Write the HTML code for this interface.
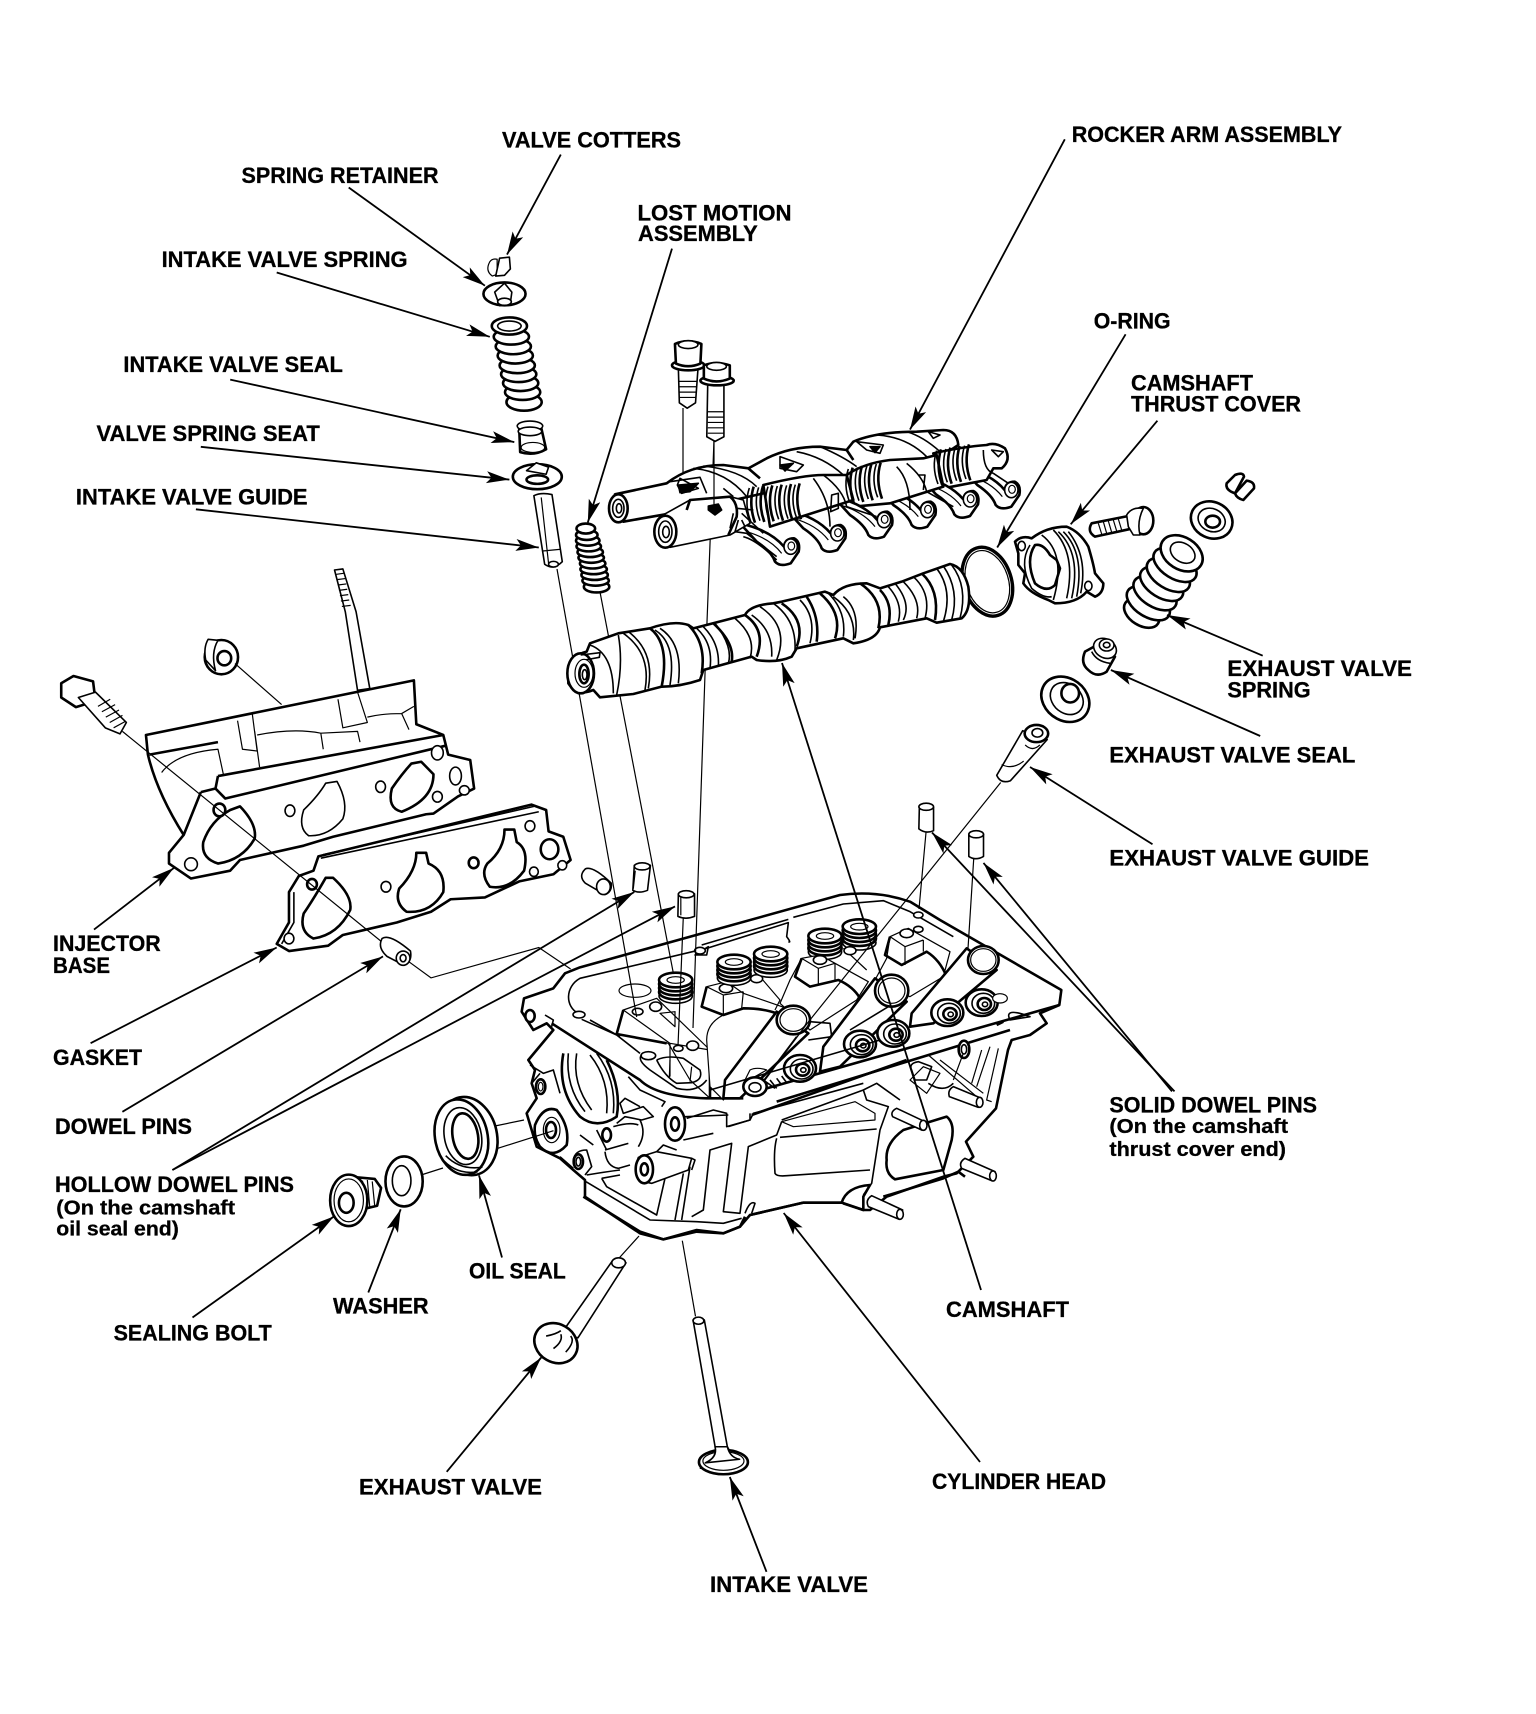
<!DOCTYPE html>
<html><head><meta charset="utf-8"><title>Cylinder head exploded view</title>
<style>
html,body{margin:0;padding:0;background:#fff}
svg{display:block}
svg *{vector-effect:non-scaling-stroke}
.p path,.p ellipse,.p polygon{fill:#fff;stroke:#000;stroke-width:1.6;stroke-linejoin:round}
.p .n{fill:none}
.p .t{stroke-width:2.6}
.p .f{stroke-width:1.2}
.p .b{fill:#000}
.l{fill:none;stroke:#000;stroke-width:1.2}
.a{fill:none;stroke:#000;stroke-width:1.8;marker-end:url(#ah)}
text{font-family:"Liberation Sans",sans-serif;font-weight:700;font-size:22px;fill:#000;stroke:#000;stroke-width:.3}
text.s{font-size:20px}
</style></head><body>
<svg xmlns="http://www.w3.org/2000/svg" width="1536" height="1714" viewBox="0 0 1536 1714">
<defs>
<marker id="ah" markerUnits="userSpaceOnUse" markerWidth="24" markerHeight="14" refX="23" refY="7" orient="auto"><path d="M0,1 L23,7 L0,13 L5,7Z" fill="#000"/></marker>
<g id="claw" class="p"><path d="M-150,-70 Q-60,-50 -18,0 Q-15,-25 12,-25 Q32,-15 26,15 L2,50 Q-30,62 -45,45 Q-55,15 -100,-15 Z" class="t"/><ellipse rx="20" ry="23" cx="2" cy="0"/><ellipse rx="10" ry="12" cx="4" cy="-2" class="f"/><path class="n f" d="M-130,-45 Q-60,-25 -25,20"/></g>
<g id="roller" class="p"><ellipse rx="48" ry="40" class="t"/><ellipse rx="34" ry="30" cx="5" cy="2"/><ellipse rx="20" ry="18" cx="8" cy="4" class="t"/><ellipse rx="8" ry="7" cx="10" cy="5"/></g>
<g id="stack" class="p"><ellipse cy="48" rx="50" ry="22"/><ellipse cy="36" rx="50" ry="22" class="t"/><ellipse cy="24" rx="50" ry="22" class="t"/><ellipse cy="12" rx="50" ry="22" class="t"/><ellipse cy="0" rx="50" ry="22" class="t"/><ellipse cy="0" rx="26" ry="10" class="f"/></g>
<g id="coil" class="p"><path class="n" d="M0,-48 Q-16,0 4,52"/><path class="n t" d="M13,-52 Q-3,0 17,56"/></g>
</defs>

<!-- INJECTOR BASE + stud, nut, bolt + GASKET -->
<g class="p" transform="translate(0,560) scale(.4898,.3571)">
<path d="M683,28 L700,25 L727,145 L755,360 L730,365 L705,145Z"/>
<path class="n f" d="M687,40 L703,37 M688,55 L705,52 M690,70 L707,67 M692,85 L709,82 M694,100 L711,97 M696,115 L713,112 M698,130 L716,127"/>
<ellipse cx="452" cy="272" rx="34" ry="48" class="t"/><path d="M425,222 Q415,245 420,280 L440,310 Q430,260 445,225Z"/><ellipse cx="458" cy="275" rx="14" ry="20" class="t"/>
<path d="M125,345 L150,325 L190,340 L195,395 L155,412 L125,385Z" class="t"/>
<path d="M160,385 L195,370 L258,455 L245,487 L215,470 Z"/>
<path class="n f" d="M200,410 L225,390 M208,425 L235,405 M216,440 L243,420 M224,455 L250,435 M232,470 L256,452"/>
<path class="t" d="M298,490 L845,337 L850,460 L905,490 L915,545 L960,560 L968,640 L935,662 L885,710 L870,712 L680,775 L620,800 L490,840 L470,870 L390,892 L345,850 L345,820 L375,770 Q320,650 302,545 Z"/>
<path class="n t" d="M445,605 L905,490 M410,650 L375,770 M410,650 L440,640 L460,668 L910,520 M440,640 L445,605 M305,545 L445,510"/>
<path class="n f" d="M520,480 L530,580 M485,450 L495,530 L525,535 L515,430 M690,390 L700,470 L750,455 L730,370 M330,595 Q360,540 445,530 L456,600 M525,490 Q600,470 655,485 L660,530 M655,485 L730,480 L735,510 M750,440 Q780,430 820,430 L835,475 M820,430 L845,410"/>
<path class="t" d="M470,700 L490,690 Q525,740 520,780 Q495,840 445,850 Q410,835 415,790 Q430,730 470,700Z"/>
<path class="n" d="M665,625 L688,620 Q712,680 700,725 Q670,775 630,772 Q608,750 620,700 Q650,660 665,625Z"/>
<path class="t" d="M840,570 L860,565 L885,600 Q885,670 820,705 Q790,695 800,640 Q820,600 840,570Z"/>
<ellipse cx="448" cy="700" rx="12" ry="18" class="t"/><ellipse cx="390" cy="852" rx="13" ry="18"/><ellipse cx="592" cy="702" rx="10" ry="16"/><ellipse cx="777" cy="635" rx="10" ry="16"/><ellipse cx="893" cy="540" rx="12" ry="20"/><ellipse cx="893" cy="663" rx="10" ry="15"/><ellipse cx="930" cy="605" rx="12" ry="25"/><ellipse cx="948" cy="645" rx="10" ry="13"/>
<path class="t" d="M650,830 L1085,685 L1115,700 L1120,760 L1150,775 L1165,840 L1130,880 L1060,900 L990,945 L920,950 L880,985 L810,1015 L700,1050 L670,1080 L590,1095 L565,1075 L590,1015 L590,930 L610,885 L640,870Z"/>
<path class="n" d="M660,825 L1090,690 M600,930 L600,1015 L575,1075 M655,835 L1100,705"/>
<path class="t" d="M665,890 L680,890 Q720,940 715,980 Q690,1050 640,1060 Q610,1040 620,990 Q640,950 665,890Z"/>
<path class="t" d="M850,820 L870,820 L875,850 Q910,870 905,930 Q880,990 830,985 Q805,960 815,920 Q850,870 850,820Z"/>
<path class="t" d="M1030,755 L1050,755 L1055,790 Q1080,810 1070,870 Q1040,925 1000,915 Q980,880 995,850 Q1030,810 1030,755Z"/>
<ellipse cx="637" cy="908" rx="10" ry="15" class="t"/><ellipse cx="590" cy="1060" rx="10" ry="15"/><ellipse cx="788" cy="915" rx="10" ry="15"/><ellipse cx="967" cy="848" rx="10" ry="15" class="t"/><ellipse cx="1082" cy="745" rx="10" ry="15"/><ellipse cx="1090" cy="873" rx="9" ry="13"/><ellipse cx="1148" cy="855" rx="9" ry="13"/><ellipse cx="1122" cy="810" rx="18" ry="28" class="t"/>
</g>

<!-- CYLINDER HEAD outline & upper details -->
<g class="p" transform="translate(510,880) scale(.33333)">
<path class="t" d="M42,355 L130,325 L165,280 L210,262 L990,45 Q1100,30 1200,65 L1290,120 L1654,330 L1648,375 L1590,400 L1610,430 L1560,465 L1505,480 L1494,510 L1458,685 L1368,785 L1390,830 L1340,880 L1300,890 L1130,950 L1080,990 L1060,990 L995,968 L880,968 L720,1005 L690,1040 L640,1060 L560,1055 L460,1078 L390,1060 L225,950 L225,900 L190,870 L150,835 L80,800 L50,700 L80,655 L65,610 L75,570 L55,540 L130,450 L110,430 L70,450 L35,395Z"/>
<path class="n" d="M205,400 C165,380 165,320 210,295 L590,205 L835,128 L830,170 Q845,190 835,185 M850,112 L1000,72 L1120,62 L1200,95 L1330,170 M575,195 L835,118 M570,215 L595,200 L590,225 L555,225 Z"/>
<ellipse cx="570" cy="212" rx="16" ry="10"/><ellipse cx="1225" cy="105" rx="14" ry="9"/><ellipse cx="1225" cy="148" rx="14" ry="9"/>
<path class="n t" d="M125,430 L390,600 Q440,650 590,655 L700,655"/>
<ellipse cx="207" cy="404" rx="18" ry="10"/>
<path class="n" d="M215,418 L320,465 L390,520 M105,405 L130,420 L125,440 M240,420 L330,470"/>
<ellipse cx="60" cy="408" rx="14" ry="18" class="t"/>
<ellipse cx="375" cy="332" rx="48" ry="20" class="f"/>
<path d="M340,390 L440,355 L600,510 L600,655 L540,600 L475,490 L320,462Z" class="f"/>
<path class="n t" d="M340,390 L320,462 L470,490 M600,510 L600,655"/>
<path class="n f" d="M340,390 L480,490 L600,510 M450,400 L495,395 L495,440 Z M480,490 L480,590"/>
<ellipse cx="383" cy="395" rx="16" ry="10"/><ellipse cx="437" cy="380" rx="18" ry="14"/><ellipse cx="505" cy="505" rx="14" ry="9"/><ellipse cx="548" cy="497" rx="18" ry="14"/>
<ellipse cx="415" cy="527" rx="22" ry="12"/>
<path class="n" d="M395,525 Q380,540 420,570 L500,625 Q560,640 590,600 M440,540 Q470,525 520,535 L570,570 Q580,600 545,608 L500,610 Q465,590 440,540"/>
<path class="n f" d="M480,540 L478,592 M545,560 L540,605"/>
<path d="M590,320 L650,305 L700,340 L830,385 L780,450 L640,660 L600,620 L590,480 Q590,430 640,405 L575,380Z" class="f"/>
<path class="n t" d="M590,320 L575,380 L640,405 L700,385 Q760,385 800,400"/>
<path class="n f" d="M590,320 L640,345 L700,335 M640,345 L640,405 M700,335 L695,385 M750,290 L810,360 L795,390"/>
<ellipse cx="648" cy="325" rx="20" ry="13"/><ellipse cx="740" cy="296" rx="18" ry="12"/>
<use href="#stack" x="497" y="300"/>
<use href="#stack" x="672" y="250" transform="translate(0,-4)"/>
<use href="#stack" x="782" y="222"/>
<use href="#stack" x="945" y="168"/>
<use href="#stack" x="1048" y="140"/>
<path d="M875,235 L930,225 L975,250 L1075,305 L1040,360 L900,450 L810,370 L840,300Z" class="f"/>
<path class="n t" d="M875,235 L855,290 L900,320 L985,300 Q1030,320 1050,355"/>
<path class="n f" d="M875,235 L925,265 L975,250 M925,265 L925,315 M975,250 L975,300 M1000,205 L1070,270"/>
<ellipse cx="930" cy="240" rx="20" ry="13"/><ellipse cx="1020" cy="212" rx="18" ry="12"/>
<path d="M1140,170 L1195,145 L1320,215 L1300,290 L1200,350 L1095,300 L1130,235Z" class="f"/>
<path class="n t" d="M1140,170 L1125,225 L1175,255 L1250,215 Q1290,240 1310,290"/>
<path class="n f" d="M1140,170 L1185,200 L1240,180 M1185,200 L1185,255 M1240,180 L1240,215"/>
<ellipse cx="1190" cy="160" rx="20" ry="13"/>
<path class="t" d="M800,395 L645,600 L640,655 L690,655 L895,460Z"/>
<path class="t" d="M1095,295 L940,500 L930,575 L990,560 L1190,365Z"/>
<path class="t" d="M1370,205 L1205,400 L1200,440 L1270,430 L1460,270Z"/>
<path class="n" d="M860,470 L755,610 M1135,380 L1020,450 M760,600 L795,625 M900,425 L960,430 L965,470 L895,480"/>
<ellipse cx="850" cy="420" rx="50" ry="43" class="t"/><ellipse cx="850" cy="420" rx="40" ry="34" class="f"/>
<ellipse cx="1145" cy="332" rx="50" ry="48" class="t"/><ellipse cx="1145" cy="332" rx="40" ry="38" class="f"/>
<ellipse cx="1420" cy="240" rx="46" ry="42" class="t"/><ellipse cx="1420" cy="240" rx="38" ry="34" class="f"/>
<path class="n f" d="M720,570 Q740,560 770,570 L700,610 Z"/>
<ellipse cx="735" cy="620" rx="35" ry="28" class="t"/><ellipse cx="735" cy="622" rx="18" ry="14"/>
<path class="n t" d="M770,625 L1648,375 M800,665 L1500,450 M1480,425 L1460,435"/>
<g transform="translate(870,565)"><use href="#roller"/></g>
<g transform="translate(1050,492)"><use href="#roller"/></g>
<g transform="translate(1150,460)"><use href="#roller"/></g>
<g transform="translate(1312,398)"><use href="#roller"/></g>
<g transform="translate(1415,368)"><use href="#roller"/></g>
<path class="n" d="M780,600 L800,625 M800,595 L815,615 M815,588 L830,608 M1500,420 Q1480,380 1560,410 Z"/>
<ellipse cx="1362" cy="508" rx="16" ry="26" class="t"/><ellipse cx="1362" cy="508" rx="8" ry="14"/>
<ellipse cx="1470" cy="355" rx="22" ry="14" class="f"/>
<path class="n f" d="M1440,500 L1400,620 M1415,510 L1385,610 M1330,600 L1360,520 M1465,505 L1430,660 L1445,665 M1240,560 L1200,600 L1250,640 L1290,580 Z M1290,540 L1420,640 M1255,525 L1400,650"/>
</g>

<!-- HEAD lower details -->
<g class="p" transform="translate(510,1050) scale(.33333)">
<path class="n t" d="M160,10 Q140,120 210,200 Q260,240 320,200 Q335,120 290,30"/>
<path class="n" d="M175,10 Q165,110 225,185 M200,10 Q185,100 245,180 M260,10 Q320,90 310,190 M240,15 Q300,90 290,190"/>
<path class="n" d="M60,45 L100,70 L130,60 L150,130 M65,100 L90,70"/>
<ellipse cx="92" cy="110" rx="14" ry="22" class="t"/><ellipse cx="92" cy="110" rx="7" ry="13" class="f"/>
<path d="M75,225 Q100,165 140,180 Q180,230 170,285 Q130,330 90,290 Q70,260 75,225Z" class="t"/>
<ellipse cx="125" cy="240" rx="25" ry="38" class="f"/><ellipse cx="123" cy="240" rx="15" ry="24" class="t"/>
<path class="n" d="M230,375 Q290,365 330,360 M150,320 L190,355 M190,330 Q195,300 230,300 L245,350 L225,375 M210,255 L250,285 M260,240 L290,300 M285,300 L355,280"/>
<ellipse cx="205" cy="335" rx="14" ry="22" class="t"/><ellipse cx="205" cy="335" rx="7" ry="13"/>
<ellipse cx="290" cy="255" rx="13" ry="20" class="t"/>
<path class="n" d="M320,220 L345,200 L395,210 L430,200 L400,170 L340,190 L330,160 L345,145 L390,170 M355,80 L390,120 L465,155 L455,170"/>
<path class="n" d="M390,210 Q410,250 385,290 M310,230 Q360,215 385,225 M285,305 Q290,350 325,355 L360,345"/>
<ellipse cx="495" cy="222" rx="30" ry="50" class="t"/><ellipse cx="495" cy="222" rx="12" ry="20" class="t"/>
<path class="n" d="M530,205 L610,180 L650,190 L650,230 L720,210 L730,190 L1060,100 M520,270 L610,250 M600,120 L1110,-30"/>
<path class="n t" d="M725,195 L1190,30"/>
<path class="n" d="M655,195 L525,200 M655,230 L720,210 L720,190"/>
<path d="M385,322 L440,305 L545,325 L535,360 L425,400 L400,395 Q370,370 385,322Z"/>
<ellipse cx="403" cy="358" rx="26" ry="42" class="t"/><ellipse cx="403" cy="358" rx="11" ry="18" class="t"/>
<path class="n" d="M440,305 L460,285 L500,300 M545,325 L555,330 L545,360"/>
<path class="n" d="M275,385 L330,375 M275,385 L290,410 L440,495 L465,385 M495,510 L520,370 M515,510 L540,350 M545,500 L580,480 L600,300 L665,280 L640,485 L690,490 L715,290 L800,255 L815,215"/>
<path class="n" d="M228,395 L420,510 L560,515 L640,520 L695,505"/>
<path d="M815,215 L1035,155 L1095,190 L1095,210 L850,230Z" class="f"/>
<path class="n" d="M815,210 L1060,120 L1100,100 L1170,150 M1060,120 L1070,150 L1135,170 L1110,240 L1085,400 L1060,435"/>
<path class="n" d="M810,262 L1100,237 M800,265 Q790,300 795,370 Q800,380 830,377 L1080,360"/>
<path class="t" d="M1130,330 Q1125,280 1180,240 L1310,200 Q1335,220 1325,270 L1300,360 L1155,388 Q1125,370 1130,330Z" style="fill:#fff"/>
<path d="M1160,175 L1245,215 L1235,240 L1148,200 Q1140,185 1160,175Z"/><ellipse cx="1240" cy="226" rx="11" ry="15"/>
<path d="M1330,110 L1415,145 L1405,172 L1318,140 Q1312,120 1330,110Z"/><ellipse cx="1409" cy="157" rx="10" ry="15"/>
<path d="M1365,325 L1455,365 L1445,392 L1355,355 Q1345,338 1365,325Z"/><ellipse cx="1449" cy="378" rx="10" ry="15"/>
<path class="n t" d="M995,458 Q1010,410 1080,405 L1060,440 L1060,480 L1000,460"/>
<path d="M1085,437 L1178,480 L1168,508 L1075,470 Q1065,450 1085,437Z"/><ellipse cx="1170" cy="493" rx="10" ry="15"/>
<path class="n t" d="M1120,440 L1300,385 L1345,365 L1365,380 M720,495 L880,458 L995,458"/>
<path class="n" d="M705,490 Q720,450 735,460 L725,490"/>
<path class="n t" d="M220,440 L390,545 L460,568 L560,540 L640,550 L690,530 L705,500"/>
<path class="n" d="M1205,60 Q1195,40 1225,35 L1265,50 L1250,90 L1215,90Z M1255,100 Q1300,130 1330,100"/>
</g>

<!-- thin leaders -->
<path class="l" d="M557,569 L636.7,1017 M600,592 L673.5,974 M683,408 L683,530 M714,440 L705,674 L693,1028 M683.3,917 L678,1046 M235,663.6 L281.6,704.6 M122.4,731.4 L382,942 M409,961.8 L431,977.9 L538.8,947.5 L570.6,969 M1000.7,782.5 L807,1023.6 L765,1080 M639,1236 L619.6,1257.5 M926,832.5 L919,909 M973.7,859 L968,948.6 M421,1175 L443,1168 M497,1148.6 L553.5,1130.7 M490,1127 L524,1120 M682.3,1240.7 L695.5,1316.4"/>

<!-- Intake column -->
<g class="p" transform="translate(0,60) scale(.4898,.3571)">
<path d="M1000,565 Q1005,555 1015,558 L1015,600 L1005,605 Q990,590 1000,565Z" class="f"/><path d="M1020,555 L1040,552 L1042,585 L1030,603 L1012,605 Z"/>
<ellipse cx="1030" cy="655" rx="43" ry="32" class="t"/><path d="M1010,650 L1030,625 L1045,650 L1042,680 L1020,688 Z"/><ellipse cx="1030" cy="677" rx="14" ry="10"/>
<ellipse cx="1070" cy="958" rx="36" ry="24" class="t"/><ellipse cx="1067" cy="930" rx="36" ry="22" class="t"/><ellipse cx="1063" cy="905" rx="36" ry="22" class="t"/><ellipse cx="1059" cy="880" rx="36" ry="22" class="t"/><ellipse cx="1056" cy="855" rx="36" ry="22" class="t"/><ellipse cx="1052" cy="828" rx="36" ry="22" class="t"/><ellipse cx="1048" cy="802" rx="36" ry="22" class="t"/><ellipse cx="1044" cy="775" rx="36" ry="22" class="t"/><ellipse cx="1040" cy="745" rx="36" ry="24" class="t"/><ellipse cx="1040" cy="745" rx="24" ry="14"/>
<path d="M1060,1030 L1105,1030 L1115,1090 Q1090,1110 1062,1098Z" class="t"/><ellipse cx="1082" cy="1025" rx="26" ry="14"/><ellipse cx="1082" cy="1040" rx="24" ry="12"/><ellipse cx="1088" cy="1085" rx="24" ry="14" class="f"/>
<ellipse cx="1097" cy="1167" rx="50" ry="35" class="t"/><path d="M1075,1150 L1095,1128 L1120,1140 L1115,1160Z"/><ellipse cx="1097" cy="1175" rx="22" ry="12" class="t"/>
<path d="M1090,1220 Q1105,1210 1127,1217 L1148,1405 Q1130,1430 1112,1412Z"/><path class="n f" d="M1105,1225 L1120,1410 M1108,1375 L1145,1370"/><ellipse cx="1130" cy="1412" rx="10" ry="8"/>
<ellipse cx="1218" cy="1475" rx="26" ry="16" class="t"/><ellipse cx="1216" cy="1458" rx="27" ry="14" class="t"/><ellipse cx="1214" cy="1442" rx="27" ry="14" class="t"/><ellipse cx="1212" cy="1426" rx="27" ry="14" class="t"/><ellipse cx="1210" cy="1410" rx="26" ry="14" class="t"/><ellipse cx="1207" cy="1394" rx="26" ry="14" class="t"/><ellipse cx="1205" cy="1378" rx="26" ry="14" class="t"/><ellipse cx="1202" cy="1362" rx="25" ry="14" class="t"/><ellipse cx="1200" cy="1346" rx="24" ry="14" class="t"/><ellipse cx="1198" cy="1330" rx="22" ry="14" class="t"/><ellipse cx="1196" cy="1312" rx="19" ry="14" class="t"/>
</g>

<!-- Camshaft + O-ring -->
<g class="p" transform="translate(560,540) scale(.33333)">
<ellipse cx="1282" cy="125" rx="72" ry="106" transform="rotate(-18 1282 125)" style="stroke-width:3.4"/>
<ellipse cx="1282" cy="125" rx="63" ry="96" transform="rotate(-18 1282 125)" class="f"/>
<path class="t" d="M25,395 Q35,345 80,335 L90,310 L175,280 L270,265 Q340,240 385,255 L400,265 L555,225 Q570,195 640,190 L665,185 L795,155 L820,165 Q850,130 920,130 L960,145 L1025,125 L1090,100 L1170,72 Q1210,80 1225,140 Q1235,210 1205,235 L1130,248 L1100,235 L960,262 Q950,300 880,310 L850,295 L710,325 L695,350 Q650,370 590,360 L575,350 L430,390 L420,420 Q360,440 305,440 L220,462 L120,472 L100,450 Q50,470 25,430Z"/>
<path class="n" d="M90,315 Q160,340 160,460 M175,285 Q190,370 170,465 M190,280 Q275,340 255,450 M205,275 Q285,335 265,445"/>
<path class="n t" d="M270,265 Q330,310 305,440 M385,255 Q440,310 425,400"/>
<path class="n" d="M285,270 Q350,310 330,435 M300,265 Q370,310 355,430 M410,265 Q460,310 450,385 M430,260 Q480,310 475,380 M465,250 Q520,320 505,370 M525,235 Q590,290 570,355"/>
<path class="n t" d="M555,225 Q620,270 590,350 M460,250 Q525,310 515,365"/>
<path class="n" d="M575,225 Q640,270 635,350 M600,200 Q690,260 650,360 M640,190 Q710,240 705,330"/>
<path class="n t" d="M665,190 Q740,240 710,320 M740,170 Q780,230 770,305 M780,160 Q850,220 825,295"/>
<path class="n" d="M720,180 Q770,230 750,310 M800,155 Q860,210 850,290 M820,170 Q890,220 880,300 M850,170 Q900,210 885,295"/>
<path class="n t" d="M900,130 Q975,180 955,265 M960,150 Q1000,190 985,255"/>
<path class="n" d="M985,140 Q1030,190 1015,245 M1005,130 Q1055,190 1030,240 M1030,125 Q1085,180 1070,235 M1060,110 Q1115,160 1095,235"/>
<path class="n t" d="M1085,100 Q1140,150 1125,240"/>
<path class="n" d="M1130,85 Q1180,150 1150,245 M1150,78 Q1200,150 1175,240 M1175,75 Q1225,140 1200,235"/>
<ellipse cx="62" cy="400" rx="40" ry="60" class="t"/><path class="n" d="M62,345 L120,338 L118,352 L75,360"/><ellipse cx="72" cy="400" rx="27" ry="42" class="f"/><ellipse cx="72" cy="402" rx="14" ry="28" class="t"/><ellipse cx="74" cy="404" rx="7" ry="15"/>
</g>

<!-- Bolts and Rocker arm assembly -->
<g class="p" transform="translate(0,60) scale(.4898,.3571)">
<path d="M1385,865 L1425,865 L1420,960 L1403,975 L1387,960Z"/><path class="n f" d="M1387,900 L1423,900 M1387,915 L1423,915 M1387,930 L1423,930 M1388,945 L1422,945"/>
<ellipse cx="1405" cy="855" rx="33" ry="14" class="t"/>
<path class="t" d="M1378,795 Q1405,780 1432,795 L1430,850 Q1405,865 1380,850Z"/><ellipse cx="1405" cy="797" rx="20" ry="11"/>
</g>
<g class="p" transform="translate(590,400) scale(.33333)">
<path class="t" d="M230,250 Q300,195 400,195 L475,205 L530,175 Q600,140 690,140 L770,150 L790,125 Q860,95 980,95 L1060,90 Q1100,90 1105,135 L1060,165 L800,230 L520,280 L300,330 L100,365 L75,283Z"/>
<ellipse cx="85" cy="325" rx="28" ry="42" class="t"/><ellipse cx="85" cy="325" rx="17" ry="27"/><ellipse cx="87" cy="325" rx="8" ry="14"/>
<path class="n" d="M240,245 L330,232 L350,280 M270,235 L325,265 L275,280 L262,255Z M310,205 Q410,215 470,290 M340,198 Q450,210 500,260 M400,265 L430,290 M570,170 L640,195 L620,215 L570,205 Z M620,155 Q700,170 760,225 M690,140 Q760,170 800,200 M800,125 L880,135 L870,160 L830,150Z M860,105 Q950,110 1010,170 M950,95 Q1000,110 1050,155 M1015,95 L1050,105 L1030,115Z"/>
<path class="b" d="M265,255 L325,250 L300,275 L270,278Z"/>
<path class="b" d="M570,195 L610,190 L585,213Z"/><path class="b" d="M840,140 L870,140 L855,158Z"/>
<path class="n t" d="M475,205 L510,235 M770,150 L790,180"/>
<g transform="translate(1262,270)"><use href="#claw"/></g>
<g transform="translate(1010,330)"><use href="#claw"/></g>
<g transform="translate(740,400)"><use href="#claw"/></g>
<path d="M1030,160 Q1120,140 1190,135 Q1215,125 1245,145 Q1265,180 1235,205 L1210,205 L1190,240 L1060,265 Z" class="t"/>
<path class="n" d="M1205,150 L1240,155 L1225,170 Z M1180,150 Q1180,210 1210,220 L1255,250"/>
<g transform="translate(1138,298)"><use href="#claw"/></g>
<path d="M770,225 Q820,190 900,180 L1000,175 L1040,165 L1060,260 L900,310 L790,320Z" class="t"/>
<g transform="translate(1040,200)"><use href="#coil"/></g><g transform="translate(1068,195)"><use href="#coil"/></g><g transform="translate(1096,190)"><use href="#coil"/></g><g transform="translate(1124,185)"><use href="#coil"/></g>
<path class="n" d="M950,190 Q1000,230 1010,275 L1090,320 M985,225 L1005,225 L1000,270 M920,200 Q960,240 960,330"/>
<g transform="translate(880,360)"><use href="#claw"/></g>
<path d="M520,255 Q640,225 700,225 L770,225 L790,300 L540,380Z" class="t"/>
<g transform="translate(775,255)"><use href="#coil"/></g><g transform="translate(803,250)"><use href="#coil"/></g><g transform="translate(831,245)"><use href="#coil"/></g><g transform="translate(859,240)"><use href="#coil"/></g>
<path class="n" d="M700,225 Q760,270 770,320 L860,350 M725,285 L745,280 L745,325 L722,335Z M670,235 Q720,300 720,380"/>
<g transform="translate(600,440)"><use href="#claw"/></g>
<path d="M300,300 L420,290 L460,300 L480,370 L420,405 L240,442 L210,350Z"/>
<ellipse cx="226" cy="395" rx="33" ry="48" class="t"/><ellipse cx="226" cy="395" rx="20" ry="32"/><ellipse cx="228" cy="396" rx="10" ry="17"/>
<path class="n t" d="M290,330 L300,300 L420,290 Q445,310 440,350 L415,405"/>
<path class="n" d="M430,340 L420,385 M445,360 L435,395 L470,400 L560,470 M455,360 L465,380 M440,325 L490,330 M455,340 L520,400 M460,410 Q500,420 560,480"/>
<path class="b" d="M355,318 L385,312 L395,330 L375,345 L355,330Z"/>
<g transform="translate(478,312)"><use href="#coil"/></g><g transform="translate(506,310)"><use href="#coil"/></g><g transform="translate(534,308)"><use href="#coil"/></g><g transform="translate(562,306)"><use href="#coil"/></g><g transform="translate(590,304)"><use href="#coil"/></g><g transform="translate(616,302)"><use href="#coil"/></g>
</g>
<path class="l" d="M714,440 L714,510"/>
<g class="p" transform="translate(0,60) scale(.4898,.3571)">
<path d="M1445,900 L1478,900 L1478,1055 L1460,1068 L1443,1055Z"/><path class="n f" d="M1445,985 L1478,985 M1445,1000 L1478,1000 M1445,1015 L1478,1015 M1445,1030 L1478,1030 M1445,1045 L1478,1045"/>
<ellipse cx="1464" cy="898" rx="34" ry="13" class="t"/>
<path class="t" d="M1437,855 Q1462,842 1490,855 L1490,892 Q1462,908 1437,892Z"/><ellipse cx="1463" cy="858" rx="20" ry="11"/>
</g>

<!-- Thrust cover group, exhaust column -->
<g class="p" transform="translate(960,460) scale(.33333)">
<path class="t" d="M165,245 Q185,225 215,235 Q260,200 320,200 Q360,215 385,260 Q400,310 405,340 L430,370 Q430,400 405,410 L380,395 Q350,430 285,430 L265,420 Q210,400 190,370 L195,340 L175,315 L175,280Z"/>
<ellipse cx="185" cy="258" rx="11" ry="14"/><ellipse cx="385" cy="378" rx="11" ry="14"/>
<path class="n" d="M280,210 Q350,280 320,415 M295,215 Q365,280 335,415 M310,215 Q375,280 350,410 M325,215 Q385,290 362,400 M245,225 Q320,280 280,420"/>
<path class="n t" d="M225,255 Q195,300 225,370 Q260,400 285,375 L300,325 L290,300 L270,285 Q250,250 225,255Z"/>
<path class="n" d="M210,255 Q175,310 215,385 Q250,415 275,410"/>
<path d="M395,190 L505,168 L520,205 L405,230 Q380,215 395,190Z" class="t"/><path class="n f" d="M415,190 L425,222 M430,185 L440,220 M445,183 L455,217 M460,180 L470,213 M475,177 L485,210"/>
<ellipse cx="550" cy="182" rx="30" ry="41" class="t"/><path d="M500,165 Q515,140 550,145 Q530,185 540,225 L520,225 L505,200Z"/>
<ellipse cx="755" cy="180" rx="64" ry="54" transform="rotate(25 755 180)" class="t"/><ellipse cx="755" cy="180" rx="42" ry="34" transform="rotate(25 755 180)"/><ellipse cx="758" cy="185" rx="22" ry="18" class="t"/>
<path d="M825,45 Q850,35 852,50 L825,100 Q795,90 800,70Z" class="t"/><path d="M860,62 Q885,65 882,85 L850,120 Q830,115 825,100Z" class="t"/>
<ellipse cx="545" cy="460" rx="58" ry="36" transform="rotate(32 545 460)" class="t"/><ellipse cx="565" cy="430" rx="72" ry="40" transform="rotate(32 565 430)" class="t"/><ellipse cx="585" cy="400" rx="72" ry="40" transform="rotate(32 585 400)" class="t"/><ellipse cx="605" cy="372" rx="72" ry="40" transform="rotate(32 605 372)" class="t"/><ellipse cx="625" cy="345" rx="72" ry="40" transform="rotate(32 625 345)" class="t"/><ellipse cx="645" cy="315" rx="72" ry="40" transform="rotate(32 645 315)" class="t"/><ellipse cx="665" cy="280" rx="68" ry="48" transform="rotate(32 665 280)" class="t"/><ellipse cx="668" cy="278" rx="40" ry="28" transform="rotate(32 668 278)"/>
<path d="M375,575 L420,550 L465,590 L440,635 Q410,655 385,630 Q360,610 375,575Z" class="t"/><ellipse cx="435" cy="565" rx="36" ry="28" transform="rotate(30 435 565)"/><ellipse cx="440" cy="555" rx="22" ry="18"/><ellipse cx="440" cy="555" rx="10" ry="8"/><path class="n" d="M395,575 Q410,605 450,610"/>
</g>
<g class="p" transform="translate(768,620) scale(.4898,.3571)">
<ellipse cx="607" cy="222" rx="47" ry="65" transform="rotate(-18 607 222)" class="t"/><ellipse cx="610" cy="220" rx="32" ry="46" transform="rotate(-18 610 220)"/><ellipse cx="617" cy="205" rx="18" ry="26" class="t"/>
<path d="M520,310 L570,335 L495,450 Q475,460 467,435Z"/><ellipse cx="548" cy="318" rx="24" ry="24" class="t"/><ellipse cx="550" cy="316" rx="11" ry="12"/>
<path class="n f" d="M477,405 Q500,420 522,395 M525,350 Q540,370 555,350"/>
<path d="M309,525 Q322,505 338,525 L338,590 Q322,600 308,585Z"/><ellipse cx="323" cy="523" rx="15" ry="10"/>
<path d="M410,600 Q424,585 440,600 L440,662 Q424,675 410,662Z"/><ellipse cx="425" cy="600" rx="15" ry="10"/>
</g>
<g class="p" transform="translate(0,560) scale(.4898,.3571)">
<path d="M780,1060 Q795,1045 838,1095 Q842,1125 825,1135 L790,1110 Q770,1085 780,1060Z"/><ellipse cx="823" cy="1115" rx="14" ry="20"/><ellipse cx="823" cy="1115" rx="6" ry="10"/>
<path d="M1195,865 Q1210,855 1248,905 Q1250,930 1235,937 L1195,905 Q1180,885 1195,865Z"/><ellipse cx="1232" cy="915" rx="14" ry="22"/>
<path d="M1295,855 Q1310,845 1328,855 L1322,925 Q1305,935 1292,925Z"/><ellipse cx="1311" cy="858" rx="16" ry="10"/><path class="n f" d="M1297,870 L1293,920"/>
<path d="M1385,935 Q1400,922 1418,935 L1418,998 Q1400,1008 1384,998Z"/><ellipse cx="1401" cy="936" rx="16" ry="10"/><path class="n f" d="M1390,945 L1390,995"/>
</g>

<!-- Bolt washer seal valves -->
<g class="p" transform="translate(0,1120) scale(.4898,.3571)">
<ellipse cx="955" cy="45" rx="60" ry="110" transform="rotate(-6 955 45)" class="t"/>
<ellipse cx="942" cy="48" rx="54" ry="106" transform="rotate(-6 942 48)" class="t"/>
<ellipse cx="945" cy="45" rx="38" ry="80" transform="rotate(-6 945 45)"/>
<ellipse cx="950" cy="45" rx="26" ry="64" transform="rotate(-6 950 45)" class="t"/>
<path class="n" d="M900,105 Q930,155 975,145 M910,100 Q940,142 985,132"/>
<path d="M725,160 L765,165 L778,190 L770,240 L725,255Z" class="t"/><path class="n f" d="M740,170 L745,245 M750,168 L755,245 M760,172 L765,240"/>
<ellipse cx="712" cy="225" rx="38" ry="72" class="t"/><ellipse cx="712" cy="225" rx="30" ry="60" class="f"/><ellipse cx="707" cy="232" rx="15" ry="28" class="t"/>
<ellipse cx="825" cy="172" rx="38" ry="70" class="t"/><ellipse cx="820" cy="170" rx="19" ry="42"/>
<path d="M1250,395 L1278,400 L1180,610 L1145,600Z"/><ellipse cx="1263" cy="400" rx="14" ry="14"/>
<ellipse cx="1135" cy="625" rx="43" ry="57" transform="rotate(-15 1135 625)" class="t"/><path class="n" d="M1115,605 Q1135,600 1145,590 M1130,640 Q1150,620 1145,600 M1155,650 Q1175,620 1165,605"/>
<path d="M1415,560 L1438,560 L1485,915 Q1495,945 1525,950 Q1490,985 1430,975 Q1465,950 1460,915Z"/><ellipse cx="1426" cy="562" rx="11" ry="10"/>
<ellipse cx="1477" cy="958" rx="50" ry="34" class="t"/><ellipse cx="1477" cy="955" rx="42" ry="26" class="f"/>
<path d="M1460,915 Q1465,945 1440,960 L1510,950 Q1490,945 1485,915Z"/>
</g>

<!-- arrows -->
<path class="a" d="M560.8,154.6 L507,254.6"/>
<path class="a" d="M348.7,187.5 L484.9,285.7"/>
<path class="a" d="M276.7,272.5 L489.8,336.8"/>
<path class="a" d="M230.2,379.6 L514.3,442.1"/>
<path class="a" d="M200.8,446.8 L509.4,479.6"/>
<path class="a" d="M195.9,509.3 L538.8,547.5"/>
<path class="a" d="M672,248.6 L587.8,522.5"/>
<path class="a" d="M1064.8,139.3 L910,429.6"/>
<path class="a" d="M1125.6,334.3 L997.2,547.5"/>
<path class="a" d="M1157.4,420.7 L1070.7,524.3"/>
<path class="a" d="M1262.7,655.7 L1167,615"/>
<path class="a" d="M1260.2,736 L1110.9,670"/>
<path class="a" d="M1152.5,844.3 L1030,767"/>
<path class="a" d="M1174.5,1091.4 L932,832.5"/>
<path class="a" d="M1172,1091.4 L983.5,862.9"/>
<path class="a" d="M981,1290 L782,663"/>
<path class="a" d="M980,1462 L783.7,1213"/>
<path class="a" d="M766.5,1571.8 L729.8,1477"/>
<path class="a" d="M446.7,1471.8 L541.2,1357.5"/>
<path class="a" d="M502,1257.5 L479,1175.4"/>
<path class="a" d="M368.3,1292.5 L400.7,1209.3"/>
<path class="a" d="M192.5,1317.5 L334,1216.4"/>
<path class="a" d="M172.4,1170 L634.3,892"/>
<path class="a" d="M172.4,1170 L675,906.4"/>
<path class="a" d="M94,929.6 L173.9,867.9"/>
<path class="a" d="M90.6,1043.2 L276.7,947.5"/>
<path class="a" d="M122.4,1111.8 L383,956.4"/>

<!-- labels -->
<g transform="translate(0,-1)">
<text x="502" y="148.6" textLength="179" lengthAdjust="spacingAndGlyphs">VALVE COTTERS</text>
<text x="241.5" y="184" textLength="197" lengthAdjust="spacingAndGlyphs">SPRING RETAINER</text>
<text x="161.6" y="268" textLength="246" lengthAdjust="spacingAndGlyphs">INTAKE VALVE SPRING</text>
<text x="123.4" y="373" textLength="219.5" lengthAdjust="spacingAndGlyphs">INTAKE VALVE SEAL</text>
<text x="96.5" y="441.8" textLength="223.3" lengthAdjust="spacingAndGlyphs">VALVE SPRING SEAT</text>
<text x="75.9" y="505.7" textLength="231.7" lengthAdjust="spacingAndGlyphs">INTAKE VALVE GUIDE</text>
<text x="637.5" y="221.4" textLength="154" lengthAdjust="spacingAndGlyphs">LOST MOTION</text>
<text x="638" y="242" textLength="119.7" lengthAdjust="spacingAndGlyphs">ASSEMBLY</text>
<text x="1071.7" y="143" textLength="270.3" lengthAdjust="spacingAndGlyphs">ROCKER ARM ASSEMBLY</text>
<text x="1093.7" y="329.6" textLength="76.9" lengthAdjust="spacingAndGlyphs">O-RING</text>
<text x="1131" y="391.4" textLength="122" lengthAdjust="spacingAndGlyphs">CAMSHAFT</text>
<text x="1131" y="412.5" textLength="170" lengthAdjust="spacingAndGlyphs">THRUST COVER</text>
<text x="1227.4" y="677" textLength="184.6" lengthAdjust="spacingAndGlyphs">EXHAUST VALVE</text>
<text x="1227.4" y="698.6" textLength="83.3" lengthAdjust="spacingAndGlyphs">SPRING</text>
<text x="1109.4" y="763.6" textLength="245.9" lengthAdjust="spacingAndGlyphs">EXHAUST VALVE SEAL</text>
<text x="1109.4" y="866.4" textLength="259.6" lengthAdjust="spacingAndGlyphs">EXHAUST VALVE GUIDE</text>
<text x="1109.4" y="1113.6" textLength="207.6" lengthAdjust="spacingAndGlyphs">SOLID DOWEL PINS</text>
<text class="s" x="1109.4" y="1134" textLength="178.6" lengthAdjust="spacingAndGlyphs">(On the camshaft</text>
<text class="s" x="1109.4" y="1156.8" textLength="176.6" lengthAdjust="spacingAndGlyphs">thrust cover end)</text>
<text x="53" y="952" textLength="107.7" lengthAdjust="spacingAndGlyphs">INJECTOR</text>
<text x="53" y="974" textLength="57" lengthAdjust="spacingAndGlyphs">BASE</text>
<text x="53" y="1066" textLength="89" lengthAdjust="spacingAndGlyphs">GASKET</text>
<text x="55" y="1135" textLength="137" lengthAdjust="spacingAndGlyphs">DOWEL PINS</text>
<text x="55" y="1193" textLength="239" lengthAdjust="spacingAndGlyphs">HOLLOW DOWEL PINS</text>
<text class="s" x="56.3" y="1215.7" textLength="178.7" lengthAdjust="spacingAndGlyphs">(On the camshaft</text>
<text class="s" x="56.3" y="1236.4" textLength="122.5" lengthAdjust="spacingAndGlyphs">oil seal end)</text>
<text x="113.6" y="1341.4" textLength="158.2" lengthAdjust="spacingAndGlyphs">SEALING BOLT</text>
<text x="333" y="1314.6" textLength="95.6" lengthAdjust="spacingAndGlyphs">WASHER</text>
<text x="469" y="1279.3" textLength="96.7" lengthAdjust="spacingAndGlyphs">OIL SEAL</text>
<text x="359" y="1495.7" textLength="183" lengthAdjust="spacingAndGlyphs">EXHAUST VALVE</text>
<text x="710" y="1593" textLength="158" lengthAdjust="spacingAndGlyphs">INTAKE VALVE</text>
<text x="946" y="1318" textLength="123" lengthAdjust="spacingAndGlyphs">CAMSHAFT</text>
<text x="932" y="1490" textLength="174" lengthAdjust="spacingAndGlyphs">CYLINDER HEAD</text>
</g>
</svg>
</body></html>
